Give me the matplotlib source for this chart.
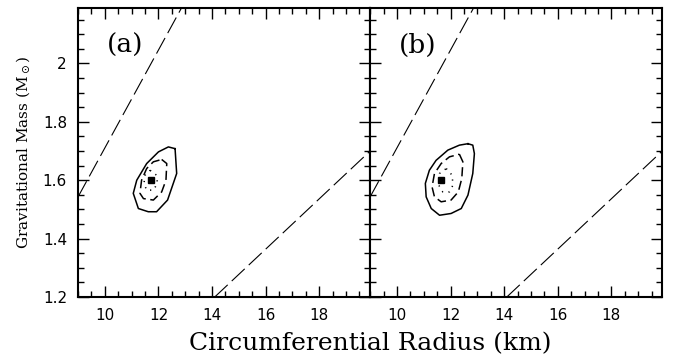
import numpy as np
import matplotlib.pyplot as plt
from matplotlib.ticker import MultipleLocator

# dashed lines
line_hi_r = [9.0, 12.86]
line_hi_m = [1.543, 2.19]
line_lo_r = [14.1, 19.9]
line_lo_m = [1.2, 1.70]

# panel (a) contours
a_outer_r = [12.62, 12.68, 12.34, 11.93, 11.62, 11.25, 11.06, 11.19, 11.56, 12.00, 12.37]
a_outer_m = [1.708, 1.623, 1.532, 1.492, 1.492, 1.503, 1.555, 1.600, 1.657, 1.697, 1.714]
a_mid_r = [12.12, 12.31, 12.28, 12.12, 11.81, 11.44, 11.31, 11.37, 11.56, 11.81]
a_mid_m = [1.671, 1.657, 1.600, 1.560, 1.532, 1.537, 1.555, 1.600, 1.640, 1.663]
a_in_r = [11.69, 11.93, 11.96, 11.81, 11.56, 11.46, 11.50]
a_in_m = [1.634, 1.617, 1.589, 1.566, 1.566, 1.589, 1.617]
a_best = (11.71, 1.602)

# panel (b) contours
b_outer_r = [12.65, 12.83, 12.89, 12.83, 12.65, 12.40, 12.02, 11.59, 11.28, 11.09, 11.06, 11.21, 11.46, 11.90, 12.33]
b_outer_m = [1.725, 1.720, 1.691, 1.623, 1.549, 1.503, 1.486, 1.480, 1.503, 1.543, 1.589, 1.634, 1.668, 1.703, 1.720]
b_mid_r = [12.33, 12.46, 12.42, 12.29, 12.02, 11.65, 11.40, 11.31, 11.40, 11.65, 11.96]
b_mid_m = [1.689, 1.663, 1.606, 1.560, 1.532, 1.526, 1.543, 1.577, 1.623, 1.657, 1.680]
b_in_r = [11.84, 12.06, 12.09, 11.96, 11.71, 11.56, 11.59]
b_in_m = [1.640, 1.617, 1.583, 1.560, 1.560, 1.583, 1.623]
b_best = (11.65, 1.602)

panels = [
    ("(a)", a_outer_r, a_outer_m, a_mid_r, a_mid_m, a_in_r, a_in_m, a_best),
    ("(b)", b_outer_r, b_outer_m, b_mid_r, b_mid_m, b_in_r, b_in_m, b_best),
]


def closed(r, m):
    return list(r) + [r[0]], list(m) + [m[0]]


fig = plt.figure(figsize=(6.73, 3.6), dpi=100)
left, right, bottom, top = 0.116, 0.984, 0.175, 0.978
w = (right - left) / 2
for i, p in enumerate(panels):
    ax = fig.add_axes([left + i * w, bottom, w, top - bottom])
    label, o_r, o_m, m_r, m_m, i_r, i_m, best = p

    ax.plot(line_hi_r, line_hi_m, color='k', lw=0.8, dashes=(16, 5))
    ax.plot(line_lo_r, line_lo_m, color='k', lw=0.8, dashes=(16, 5))

    r, m = closed(o_r, o_m)
    ax.plot(r, m, color='k', lw=1.1)
    r, m = closed(m_r, m_m)
    ax.plot(r, m, color='k', lw=1.1, dashes=(6, 3))
    r, m = closed(i_r, i_m)
    ax.plot(r, m, color='k', lw=1.1, dashes=(0.8, 3.5))
    ax.plot([best[0]], [best[1]], 's', color='k', ms=4)

    ax.text(0.10, 0.87, label, transform=ax.transAxes, fontsize=19,
            family='DejaVu Serif', va='center', ha='left')

    ax.set_xlim(9, 19.9)
    ax.set_ylim(1.2, 2.19)
    ax.xaxis.set_minor_locator(MultipleLocator(0.5))
    ax.yaxis.set_minor_locator(MultipleLocator(0.05))
    ax.set_xticks([10, 12, 14, 16, 18])
    ax.set_xticklabels(['10', '12', '14', '16', '18'])
    ax.set_yticks([1.2, 1.4, 1.6, 1.8, 2.0])
    ax.tick_params(which='both', direction='in', top=True, right=True, width=1.0)
    ax.tick_params(which='major', length=8, labelsize=11, pad=8)
    ax.tick_params(which='minor', length=4)
    for s in ax.spines.values():
        s.set_linewidth(1.5)
    if i == 0:
        ax.set_yticklabels(['1.2', '1.4', '1.6', '1.8', '2'])
        ax.set_ylabel(r'Gravitational Mass (M$_\odot$)', fontsize=11,
                      family='DejaVu Serif', labelpad=8)
    else:
        ax.tick_params(labelleft=False)

fig.text((left + right) / 2, 0.045, 'Circumferential Radius (km)', fontsize=18,
         family='DejaVu Serif', ha='center', va='center')

fig.savefig('out.png', dpi=100)
